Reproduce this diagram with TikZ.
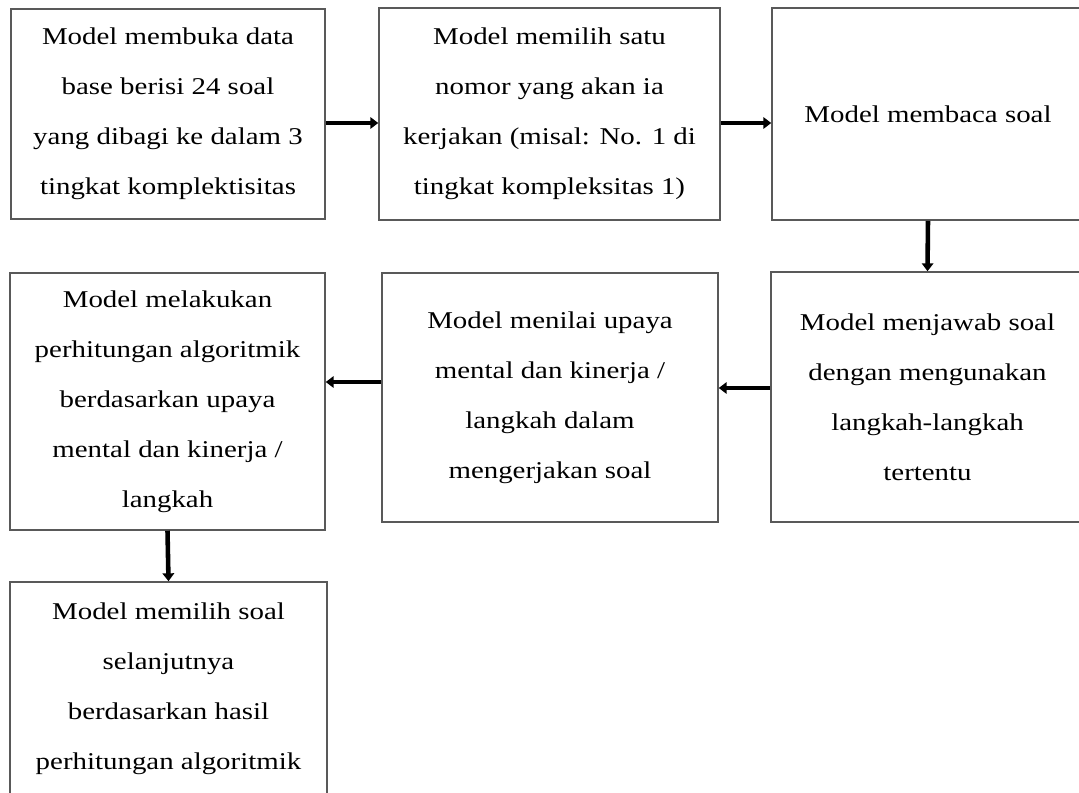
\documentclass[tikz,border=0pt]{standalone}
\usepackage{fontspec}
\setmainfont[FakeStretch=1.2]{Liberation Serif}
\usetikzlibrary{arrows.meta}

\begin{document}
\begin{tikzpicture}[x=0.02cm, y=-0.02cm,
   box/.style={draw=black!65, line width=0.9pt, align=center, inner sep=0pt,
      font=\fontsize{13.7pt}{28.5pt}\selectfont},
   arr/.style={line width=2.6pt, -{Triangle[length=4.5pt,width=6.5pt]}}]

\useasboundingbox (0,0) rectangle (1079,792);

\node[box, minimum width=6.28cm, minimum height=4.2cm] (buka) at (168,114)
   {Model membuka data\\ base berisi 24 soal\\ yang dibagi ke dalam 3\\ tingkat komplektisitas};
\node[box, minimum width=6.82cm, minimum height=4.24cm] (pilih) at (549.5,114)
   {Model memilih satu\\ nomor yang akan ia\\ kerjakan (misal: No. 1 di\\ tingkat kompleksitas 1)};
\node[box, minimum width=6.24cm, minimum height=4.24cm] (baca) at (928,114)
   {Model membaca soal};
\node[box, minimum width=6.26cm, minimum height=5cm] (jawab) at (927.5,397)
   {Model menjawab soal\\ dengan mengunakan\\ langkah-langkah\\ tertentu};
\node[box, minimum width=6.72cm, minimum height=4.98cm] (nilai) at (550,397.5)
   {Model menilai upaya\\ mental dan kinerja /\\ langkah dalam\\ mengerjakan soal};
\node[box, minimum width=6.3cm, minimum height=5.14cm] (hitung) at (167.5,401.5)
   {Model melakukan\\ perhitungan algoritmik\\ berdasarkan upaya\\ mental dan kinerja /\\ langkah};
\node[box, minimum width=6.34cm, minimum height=4.28cm] (lanjut) at (168.5,689)
   {Model memilih soal\\ selanjutnya\\ berdasarkan hasil\\ perhitungan algoritmik};

\draw[arr] ([yshift=-0.18cm]buka.east) -- ([yshift=-0.18cm]buka.east -| pilih.west);
\draw[arr] ([yshift=-0.18cm]pilih.east) -- ([yshift=-0.18cm]pilih.east -| baca.west);
\draw[arr] (baca.south) -- (jawab.north);
\draw[arr] ([yshift=0.18cm]jawab.west) -- ([yshift=0.18cm]jawab.west -| nilai.east);
\draw[arr] ([yshift=0.31cm]nilai.west) -- ([yshift=0.31cm]nilai.west -| hitung.east);
\draw[arr] (hitung.south) -- (lanjut.north);

\end{tikzpicture}
\end{document}
